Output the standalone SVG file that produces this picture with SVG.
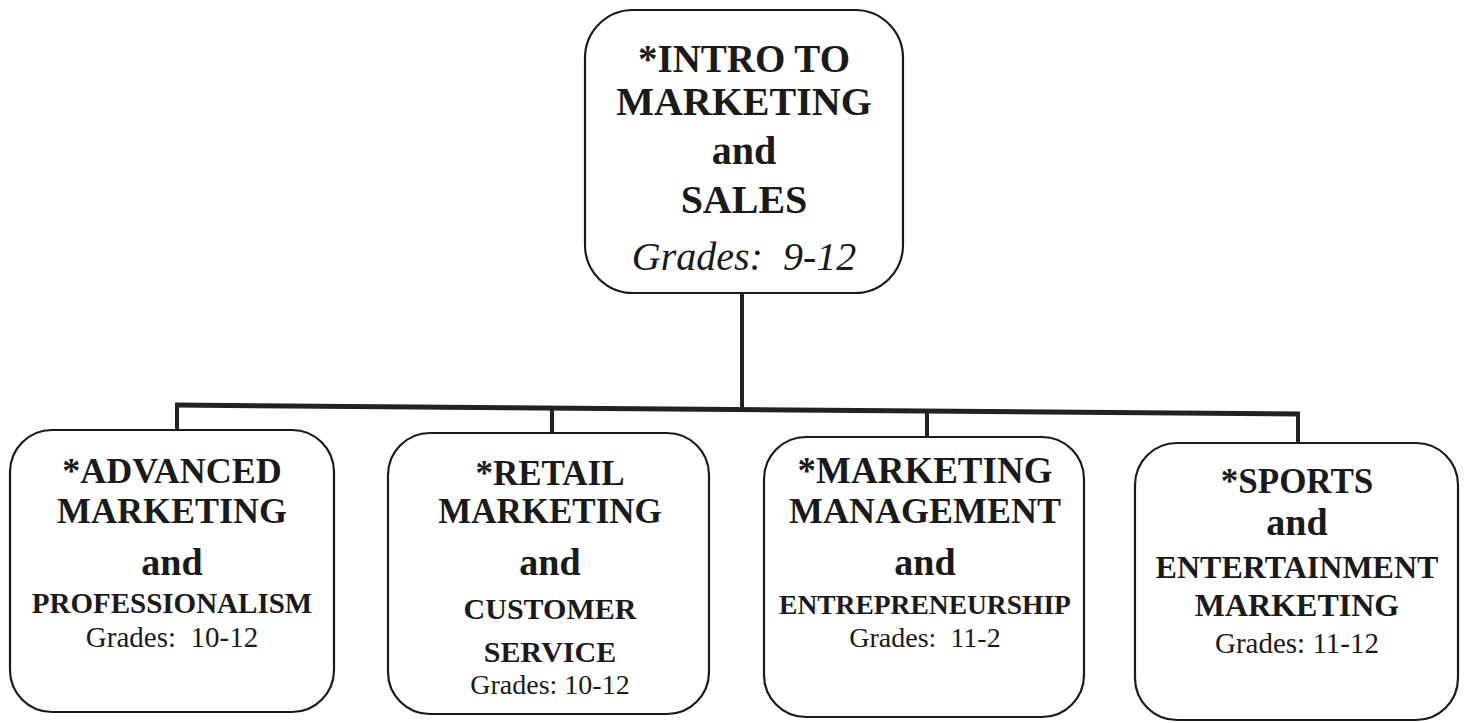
<svg xmlns="http://www.w3.org/2000/svg" width="1465" height="723" viewBox="0 0 1465 723">
<style>
.box{fill:#fff;stroke:#1a1a1a;stroke-width:2.2}
.conn{stroke:#222;stroke-width:4;fill:none}
text{font-family:"Liberation Serif","Times New Roman",serif;fill:#1a1a1a;text-anchor:middle}
.b{font-weight:bold}
.it{font-style:italic}
</style>
<rect width="1465" height="723" fill="#fff"/>
<g id="connectors">
<line class="conn" x1="742" y1="293" x2="742" y2="408"/>
<line class="conn" x1="175" y1="405" x2="1300" y2="414" style="stroke-width:5"/>
<line class="conn" x1="177" y1="405" x2="177" y2="431"/>
<line class="conn" x1="552" y1="408" x2="552" y2="434"/>
<line class="conn" x1="927" y1="411" x2="927" y2="437"/>
<line class="conn" x1="1298" y1="414" x2="1298" y2="444"/>
</g>
<g id="intro">
<rect class="box" x="585" y="10" width="318" height="283" rx="48"/>
<text class="b" x="744" y="72" font-size="39">*INTRO TO</text>
<text class="b" x="744" y="115" font-size="40">MARKETING</text>
<text class="b" x="744" y="164" font-size="40">and</text>
<text class="b" x="744" y="213" font-size="40">SALES</text>
<text class="it" x="744" y="270" font-size="40" xml:space="preserve">Grades:  9-12</text>
</g>
<g id="advanced">
<rect class="box" x="10" y="430" width="324" height="282" rx="42"/>
<text class="b" x="172" y="483" font-size="36">*ADVANCED</text>
<text class="b" x="172" y="523" font-size="36">MARKETING</text>
<text class="b" x="172" y="575" font-size="38">and</text>
<text class="b" x="172" y="613" font-size="29">PROFESSIONALISM</text>
<text x="172" y="647" font-size="29" xml:space="preserve">Grades:  10-12</text>
</g>
<g id="retail">
<rect class="box" x="388" y="433" width="321" height="281" rx="42"/>
<text class="b" x="550" y="485" font-size="35">*RETAIL</text>
<text class="b" x="550" y="523" font-size="35">MARKETING</text>
<text class="b" x="550" y="575" font-size="38">and</text>
<text class="b" x="550" y="619" font-size="30">CUSTOMER</text>
<text class="b" x="550" y="662" font-size="30">SERVICE</text>
<text x="550" y="694" font-size="28">Grades: 10-12</text>
</g>
<g id="management">
<rect class="box" x="764" y="437" width="320" height="280" rx="42"/>
<text class="b" x="925" y="483" font-size="37">*MARKETING</text>
<text class="b" x="925" y="523" font-size="36">MANAGEMENT</text>
<text class="b" x="925" y="575" font-size="38">and</text>
<text class="b" x="925" y="614" font-size="27.5">ENTREPRENEURSHIP</text>
<text x="925" y="647" font-size="28" xml:space="preserve">Grades:  11-2</text>
</g>
<g id="sports">
<rect class="box" x="1135" y="443" width="323" height="277" rx="42"/>
<text class="b" x="1297" y="493" font-size="35">*SPORTS</text>
<text class="b" x="1297" y="535" font-size="38">and</text>
<text class="b" x="1297" y="578" font-size="32">ENTERTAINMENT</text>
<text class="b" x="1297" y="616" font-size="32">MARKETING</text>
<text x="1297" y="653" font-size="29">Grades: 11-12</text>
</g>
</svg>
